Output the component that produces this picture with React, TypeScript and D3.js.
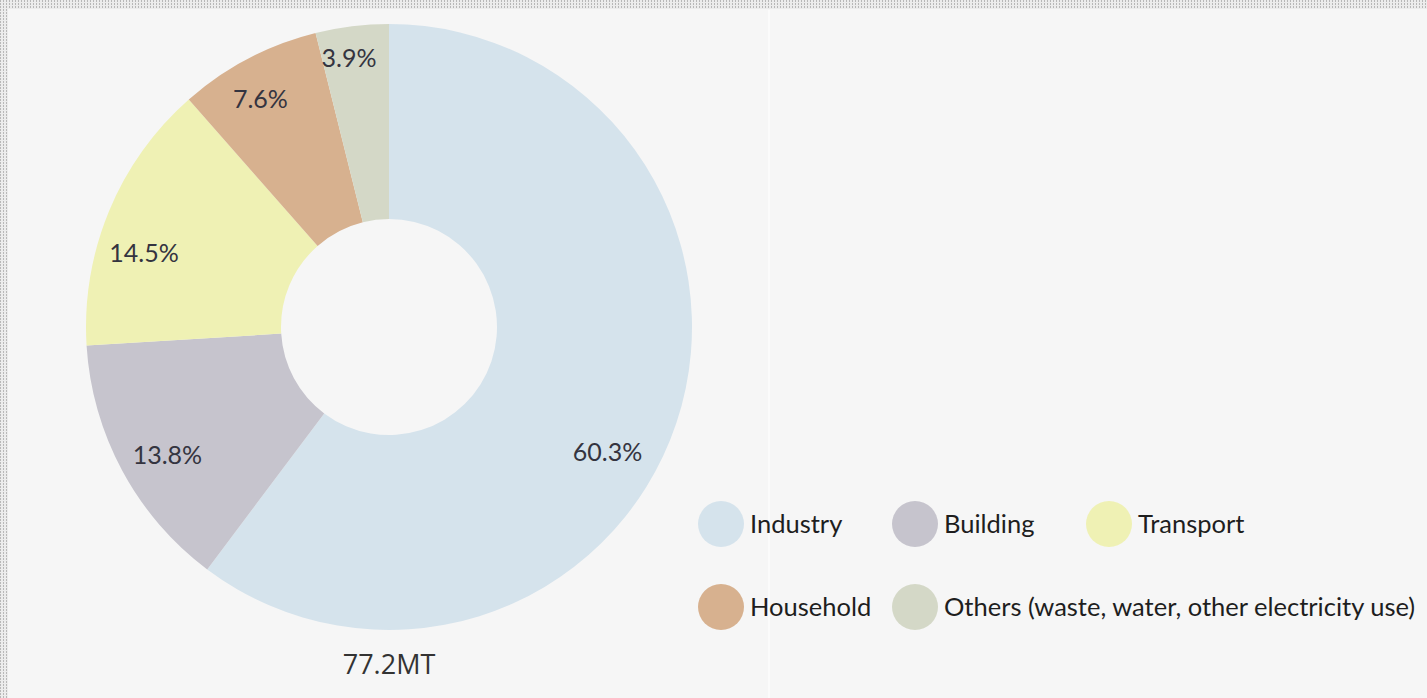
import React, { useEffect, useRef } from 'react';
import * as d3 from 'd3';

const categories = ['Industry', 'Building', 'Transport', 'Household', 'Others (waste, water, other electricity use)'];
const shares = [60.3, 13.8, 14.5, 7.6, 3.9];
const colors = ['#d5e3ec', '#c6c4cd', '#eff1b4', '#d7b18f', '#d4d8c7'];
const totalLabel = '77.2MT';

const W = 1427;
const H = 698;

export default function App() {
    const ref = useRef<SVGSVGElement>(null);

    useEffect(() => {
        const svg = d3.select(ref.current);
        svg.selectAll('*').remove();

        // dotted frame around the panel
        const defs = svg.append('defs');
        const pat = defs.append('pattern')
            .attr('id', 'dots')
            .attr('width', 3)
            .attr('height', 3)
            .attr('patternUnits', 'userSpaceOnUse');
        pat.append('rect').attr('width', 3).attr('height', 3).attr('fill', '#ececec');
        pat.append('rect').attr('width', 1).attr('height', 2).attr('fill', '#b8b8b8');

        svg.append('rect').attr('width', W).attr('height', H).attr('fill', 'url(#dots)');
        svg.append('rect')
            .attr('x', 8).attr('y', 9)
            .attr('width', W - 8).attr('height', H - 9)
            .attr('fill', '#f6f6f6');
        svg.append('rect')
            .attr('x', 768).attr('y', 10)
            .attr('width', 2).attr('height', H - 10)
            .attr('fill', '#fbfbfb');

        const cx = 389, cy = 327;
        const outerR = 303, innerR = 108;

        const pie = d3.pie<number>().sort(null).value(d => d);
        const arcs = pie(shares);
        const arc = d3.arc<d3.PieArcDatum<number>>().innerRadius(innerR).outerRadius(outerR);

        const g = svg.append('g').attr('transform', `translate(${cx},${cy})`);
        g.selectAll('path.slice')
            .data(arcs)
            .enter()
            .append('path')
            .attr('class', 'slice')
            .attr('d', arc)
            .attr('fill', (d, i) => colors[i]);

        // labels sit near the outer edge; some are nudged round a bit
        const labelR = [252, 256, 256, 262, 272];
        const nudge = [0.2, -0.03, -0.1, -0.03, -0.025];
        const ang = (d: d3.PieArcDatum<number>, i: number) => (d.startAngle + d.endAngle) / 2 + nudge[i];
        g.selectAll('text.pct')
            .data(arcs)
            .enter()
            .append('text')
            .attr('class', 'pct')
            .attr('x', (d, i) => labelR[i] * Math.sin(ang(d, i)))
            .attr('y', (d, i) => -labelR[i] * Math.cos(ang(d, i)))
            .attr('dy', '0.35em')
            .attr('text-anchor', 'middle')
            .style('font-family', 'Lato, sans-serif')
            .style('font-size', '25px')
            .style('fill', '#343440')
            .text((d, i) => shares[i].toFixed(1) + '%');

        svg.append('text')
            .attr('x', cx)
            .attr('y', 674)
            .attr('text-anchor', 'middle')
            .style('font-family', '"Open Sans", sans-serif')
            .style('font-size', '27px')
            .style('fill', '#333')
            .text(totalLabel);

        // legend in a 3-column grid
        const legend = svg.append('g').attr('transform', 'translate(698,524)');
        const colW = 194, rowH = 83, dotR = 23;
        const item = legend.selectAll('g.item')
            .data(categories)
            .enter()
            .append('g')
            .attr('class', 'item')
            .attr('transform', (d, i) => `translate(${(i % 3) * colW},${Math.floor(i / 3) * rowH})`);
        item.append('circle')
            .attr('cx', dotR)
            .attr('cy', 0)
            .attr('r', dotR)
            .attr('fill', (d, i) => colors[i]);
        item.append('text')
            .attr('x', dotR * 2 + 6)
            .attr('y', 0)
            .attr('dy', '0.35em')
            .style('font-family', 'Lato, sans-serif')
            .style('font-size', '25.5px')
            .style('fill', '#1e1e1e')
            .text(d => d);
    }, []);

    return (
        <div>
            <svg ref={ref} width={W} height={H} style={{ position: 'absolute', left: 0, top: 0 }}></svg>
        </div>
    );
}
